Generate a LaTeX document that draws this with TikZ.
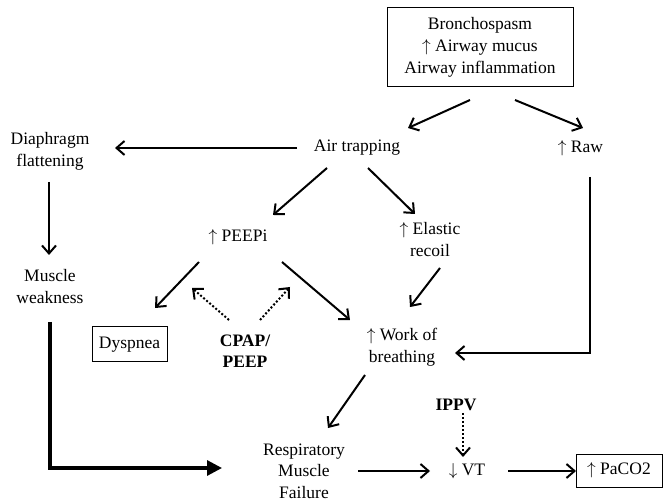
\documentclass[tikz,border=0pt]{standalone}
\usepackage{fontspec}
\setmainfont{Liberation Serif}
\usetikzlibrary{arrows.meta,calc}
\newcommand{\upa}{$\uparrow$}
\newcommand{\dna}{$\downarrow$}
\begin{document}
\begin{tikzpicture}[x=1pt,y=-1pt,
  txt/.style={inner sep=0pt,align=center,font=\fontsize{17.5}{22}\selectfont},
  bx/.style={txt,draw,line width=1pt},
  arr/.style={line width=2pt,-{Straight Barb[length=8pt,width=14pt,line width=2pt]}},
  dotarr/.style={arr,dotted},
  thickarr/.style={line width=3.2pt,-{Triangle[length=15pt,width=15pt]}}]
\path[use as bounding box] (0,0) rectangle (664,502);
% nodes
\node[bx,minimum width=186pt,minimum height=79pt] (top) at (480,47.5)
  {Bronchospasm\\ \upa\ Airway mucus\\ Airway inflammation};
\node[txt] (air) at (357,148) {Air trapping};
\node[txt] (raw) at (580.5,148) {\upa\ Raw};
\node[txt] (diaph) at (50,151) {Diaphragm\\flattening};
\node[txt] (peepi) at (238,237) {\upa\ PEEPi};
\node[txt] (elastic) at (430,240) {\upa\ Elastic\\recoil};
\node[txt] (muscle) at (50,287) {Muscle\\weakness};
\node[bx,minimum width=75pt,minimum height=35pt] (dysp) at (129.5,344.5) {Dyspnea};
\node[txt,font=\fontsize{17.5}{21}\selectfont\bfseries] (cpap) at (245,351) {CPAP/\\PEEP};
\node[txt] (work) at (402,347) {\upa\ Work of\\breathing};
\node[txt,font=\fontsize{17.5}{21.5}\selectfont] (resp) at (304,471) {Respiratory\\Muscle\\Failure};
\node[txt,font=\fontsize{17.5}{22}\selectfont\bfseries] (ippv) at (456,405) {IPPV};
\node[txt] (vt) at (467,471) {\dna\ VT};
\node[bx,minimum width=86pt,minimum height=33pt] (paco2) at (619,470.5) {\upa\ PaCO2};
% connectors
\draw[arr] ($(top)+(-10,52.5)$) -- ($(air)+(51,-20)$);
\draw[arr] ($(top)+(35,52.5)$) -- ($(raw)+(2.5,-20)$);
\draw[arr] ($(air)+(-60,0)$) -- ($(diaph)+(65,-3)$);
\draw[arr] ($(air)+(-30,20)$) -- ($(peepi)+(35,-22)$);
\draw[arr] ($(air)+(11,20)$) -- ($(elastic)+(-15,-26)$);
\draw[arr] ($(diaph)+(-1,31)$) -- ($(muscle)+(-1,-32)$);
\draw[arr] ($(peepi)+(-39,25)$) -- ($(dysp)+(25.5,-36.5)$);
\draw[dotarr] ($(cpap)+(-16,-31)$) -- ($(peepi)+(-46,51)$);
\draw[dotarr] ($(cpap)+(15,-31)$) -- ($(peepi)+(52,50)$);
\draw[arr] ($(peepi)+(44,25)$) -- ($(work)+(-52,-27)$);
\draw[arr] ($(elastic)+(10,28)$) -- ($(work)+(8,-40)$);
\draw[arr] ($(raw)+(9.5,29)$) |- ($(work)+(53,6)$);
\draw[arr] ($(work)+(-37,28)$) -- ($(resp)+(24,-43)$);
\draw[thickarr] ($(muscle)+(0,35)$) |- ($(resp)+(-82,-3)$);
\draw[arr] ($(resp)+(54,0)$) -- ($(vt)+(-37,0)$);
\draw[dotarr] ($(ippv)+(7,8)$) -- ($(vt)+(-4,-14)$);
\draw[arr] ($(vt)+(41,0)$) -- ($(paco2)+(-43,0.5)$);
\end{tikzpicture}
\end{document}
